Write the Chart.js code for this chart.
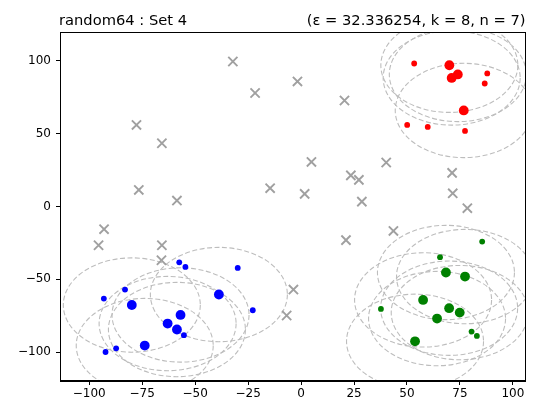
<!DOCTYPE html>
<html>
<head>
<meta charset="utf-8">
<script src="https://cdn.jsdelivr.net/npm/chart.js@4/dist/chart.umd.min.js"></script>
<style>
html,body{margin:0;padding:0;background:#fff;}
#wrap{width:534px;height:405px;position:relative;}
</style>
</head>
<body>
<div id="wrap"><canvas id="c" width="534" height="405"></canvas></div>
<script>
// ---- data ----
const titleLeft = "random64 : Set 4";
const titleRight = "(ε = 32.336254, k = 8, n = 7)";
const epsilon = 32.336254;
const xTicks = [-100, -75, -50, -25, 0, 25, 50, 75, 100];
const yTicks = [-100, -50, 0, 50, 100];
const xRange = [-113.8, 106.0];
const yRange = [-119.7, 119.6];

const noisePts = [
  [-32.2, 99.4], [-1.7, 85.7], [-21.7, 77.8], [20.5, 72.6], [-77.7, 55.9],
  [-65.7, 43.3], [4.9, 30.5], [23.5, 21.3], [27.3, 18.2], [-76.6, 11.3],
  [-14.6, 12.5], [1.7, 8.6], [-58.6, 4.0], [-93.0, -15.6], [-95.6, -26.6],
  [-65.7, -26.6], [-65.9, -36.9], [21.2, -23.1], [40.2, 30.1], [71.3, 23.0],
  [28.7, 3.3], [71.6, 9.0], [78.5, -1.2], [43.6, -16.8], [-3.6, -57.0],
  [-6.8, -74.8]
];
const redCore = [[70.0, 96.8], [74.0, 90.5], [71.1, 88.1], [76.8, 65.8]];
const redEdge = [[53.4, 98.0], [87.9, 91.2], [86.7, 84.3], [50.1, 55.9], [59.8, 54.5], [77.4, 51.8]];
const blueCore = [[-38.8, -60.4], [-79.9, -67.6], [-56.9, -74.4], [-63.0, -80.3], [-58.6, -84.4], [-73.8, -95.4]];
const blueEdge = [[-57.5, -38.3], [-54.6, -41.5], [-29.9, -42.2], [-83.1, -57.0], [-93.1, -63.2],
  [-22.8, -71.2], [-55.3, -88.3], [-87.3, -97.3], [-92.3, -99.8]];
const greenCore = [[68.4, -45.3], [77.4, -48.1], [57.6, -64.1], [69.9, -69.8], [74.9, -72.8], [64.2, -76.9], [53.8, -92.5]];
const greenEdge = [[85.5, -24.1], [65.6, -34.8], [37.7, -70.3], [80.5, -85.8], [83.0, -88.8]];

// ---- chart ----
const toXY = a => a.map(p => ({x: p[0], y: p[1]}));
const FONT = "'DejaVu Sans', sans-serif";

const circlesPlugin = {
  id: 'circles',
  beforeDatasetsDraw(chart) {
    const ctx = chart.ctx, xs = chart.scales.x, ys = chart.scales.y, a = chart.chartArea;
    ctx.save();
    ctx.beginPath();
    ctx.rect(a.left, a.top, a.right - a.left, a.bottom - a.top);
    ctx.clip();
    ctx.strokeStyle = '#bdbdbd';
    ctx.lineWidth = 1.1;
    ctx.setLineDash([5, 2.5]);
    [...redCore, ...blueCore, ...greenCore].forEach(p => {
      const cx = xs.getPixelForValue(p[0]), cy = ys.getPixelForValue(p[1]);
      const rx = Math.abs(xs.getPixelForValue(p[0] + epsilon) - cx);
      const ry = Math.abs(ys.getPixelForValue(p[1] + epsilon) - cy);
      ctx.beginPath();
      ctx.ellipse(cx, cy, rx, ry, 0, 0, Math.PI * 2);
      ctx.stroke();
    });
    ctx.restore();
  },
  afterDraw(chart) {
    const ctx = chart.ctx, a = chart.chartArea;
    ctx.save();
    ctx.strokeStyle = '#000';
    ctx.lineWidth = 1;
    ctx.strokeRect(Math.round(a.left) + 0.5, Math.round(a.top) + 0.5,
      Math.round(a.right - a.left) - 1, Math.round(a.bottom - a.top) - 1);
    ctx.fillStyle = '#000';
    ctx.font = "14.7px " + FONT;
    ctx.textBaseline = 'alphabetic';
    ctx.textAlign = 'left';
    ctx.fillText(titleLeft, a.left - 1, 25);
    ctx.textAlign = 'right';
    ctx.fillText(titleRight, a.right, 25);
    ctx.restore();
  }
};

new Chart(document.getElementById('c'), {
  type: 'scatter',
  data: {
    datasets: [
      {data: toXY(noisePts), pointStyle: 'crossRot', pointRadius: 6.5, borderColor: '#a0a0a0', borderWidth: 1.9, backgroundColor: '#a0a0a0'},
      {data: toXY(redEdge), pointRadius: 2.9, backgroundColor: '#ff0000', borderWidth: 0},
      {data: toXY(redCore), pointRadius: 4.9, backgroundColor: '#ff0000', borderWidth: 0},
      {data: toXY(blueEdge), pointRadius: 2.9, backgroundColor: '#0000ff', borderWidth: 0},
      {data: toXY(blueCore), pointRadius: 4.9, backgroundColor: '#0000ff', borderWidth: 0},
      {data: toXY(greenEdge), pointRadius: 2.9, backgroundColor: '#008000', borderWidth: 0},
      {data: toXY(greenCore), pointRadius: 4.9, backgroundColor: '#008000', borderWidth: 0}
    ]
  },
  options: {
    responsive: false,
    animation: false,
    events: [],
    layout: {padding: {left: 0, right: 7, top: 32, bottom: 0}},
    plugins: {legend: {display: false}, tooltip: {enabled: false}, title: {display: false}},
    scales: {
      x: {
        type: 'linear', min: xRange[0], max: xRange[1],
        afterBuildTicks: s => { s.ticks = xTicks.map(v => ({value: v})); },
        afterFit: s => { s.height = 24; },
        grid: {display: true, drawOnChartArea: false, drawTicks: true, tickLength: 4, tickColor: '#000', tickWidth: 1},
        border: {display: true, color: '#000', width: 1},
        ticks: {color: '#000', font: {family: FONT, size: 12}, padding: 2, maxRotation: 0, autoSkip: false,
          callback: v => (v < 0 ? '\u2212' + Math.abs(v) : String(v))}
      },
      y: {
        type: 'linear', min: yRange[0], max: yRange[1],
        afterBuildTicks: s => { s.ticks = yTicks.map(v => ({value: v})); },
        afterFit: s => { s.width = 60; },
        grid: {display: true, drawOnChartArea: false, drawTicks: true, tickLength: 4, tickColor: '#000', tickWidth: 1},
        border: {display: true, color: '#000', width: 1},
        ticks: {color: '#000', font: {family: FONT, size: 12}, padding: 5, autoSkip: false,
          callback: v => (v < 0 ? '\u2212' + Math.abs(v) : String(v))}
      }
    }
  },
  plugins: [circlesPlugin]
});
</script>
</body>
</html>
